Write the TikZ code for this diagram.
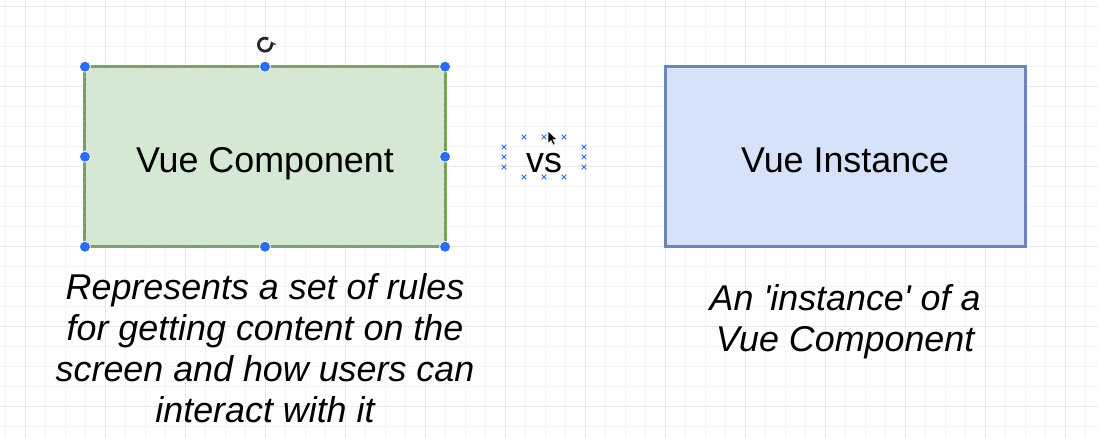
\documentclass[tikz,border=0pt]{standalone}
\usepackage{fontspec}
\setmainfont{Liberation Sans}
\usetikzlibrary{positioning,arrows.meta}

\definecolor{compfill}{HTML}{D5E8D4}
\definecolor{compline}{HTML}{78AA5E}
\definecolor{instfill}{HTML}{D6E2FA}
\definecolor{instline}{HTML}{6C86B8}
\definecolor{handle}{HTML}{2C6DF0}
\definecolor{gridminor}{HTML}{F4F4F4}
\definecolor{gridmajor}{HTML}{E8E8E8}

\tikzset{
  box/.style={rectangle, minimum width=9cm, minimum height=4.5cm, inner sep=0pt, outer sep=0pt, line width=2.1pt},
  compbox/.style={box, fill=compfill, draw=compline},
  instbox/.style={box, fill=instfill, draw=instline},
  boxlabel/.style={inner sep=0pt, text depth=0pt, font=\fontsize{25.5}{29.2}\selectfont},
  caption/.style={inner sep=0pt, outer sep=0pt, align=center, font=\itshape\fontsize{25.5}{29.2}\selectfont},
  selhandle/.style={fill=handle, draw=white, line width=0.5pt}
}

\begin{document}
\begin{tikzpicture}[x=0.025cm, y=-0.025cm]

    \fill[white] (0,0) rectangle (1098,438);
    \useasboundingbox (0,0) rectangle (1098,438);

    % grid of the canvas
    \foreach \gx in {5,25,...,1085}
    \draw[gridminor, line width=0.6pt] (\gx,0) -- (\gx,438);
    \foreach \gy in {6.7,26.7,...,430}
    \draw[gridminor, line width=0.6pt] (0,\gy) -- (1098,\gy);
    \foreach \gx in {25,105,...,1085}
    \draw[gridmajor, line width=0.6pt] (\gx,0) -- (\gx,438);
    \foreach \gy in {6.7,86.7,...,430}
    \draw[gridmajor, line width=0.6pt] (0,\gy) -- (1098,\gy);

    \node[compbox] (comp) at (265,156.7) {};
    \node[instbox, right=5.5cm of comp] (inst) {};

    \node[boxlabel] (comptxt) at ([yshift=-0.08cm]comp.center) {Vue Component};
    \node[boxlabel] (insttxt) at ([yshift=-0.08cm]inst.center) {Vue Instance};

    % selection of the component box
    \draw[dash pattern=on 2pt off 2pt, line width=0.8pt, color=gray!60!compline]
        (comp.north west) rectangle (comp.south east);
    \foreach \a in {north west,north,north east,west,east,south west,south,south east}
    \filldraw[selhandle] (comp.\a) circle (5.5);

    \coordinate[above=0.55cm of comp] (rot);
    \draw[line width=2pt, black!85, -{Stealth[length=4pt, width=5pt]}]
        ([shift={(-60:6.5)}]rot) arc[start angle=-60, end angle=-390, radius=6.5];

    % vs in the middle
    \node[boxlabel] (vs) at (544,162.5) {vs};
    \coordinate (vsc) at (544,157);
    \foreach \dx/\dy in {-20/-20,0/-20,20/-20,-20/20,0/20,20/20,-40/-10,-40/0,-40/10,40/-10,40/0,40/10}
    \draw[shift={(vsc)}, handle, line width=0.7pt]
        (\dx-2.3,\dy-2.3) -- ++(4.6,4.6) (\dx-2.3,\dy+2.3) -- ++(4.6,-4.6);

    % mouse pointer
    \coordinate (tip) at (548,131);
    \filldraw[fill=black, draw=white, line width=0.4pt]
        (tip) -- ++(0,12.5) -- ++(3,-3) -- ++(2.2,4.6) -- ++(2,-0.9) -- ++(-2.2,-4.5) -- ++(4.3,0) -- cycle;

    \node[caption, below=0.66cm of comp] (compnote)
        {Represents a set of rules\\for getting content on the\\screen and how users can\\interact with it};
    \node[caption, below=0.945cm of inst] (instnote)
        {An \textquotesingle instance\textquotesingle{} of a\\Vue Component};

\end{tikzpicture}
\end{document}
